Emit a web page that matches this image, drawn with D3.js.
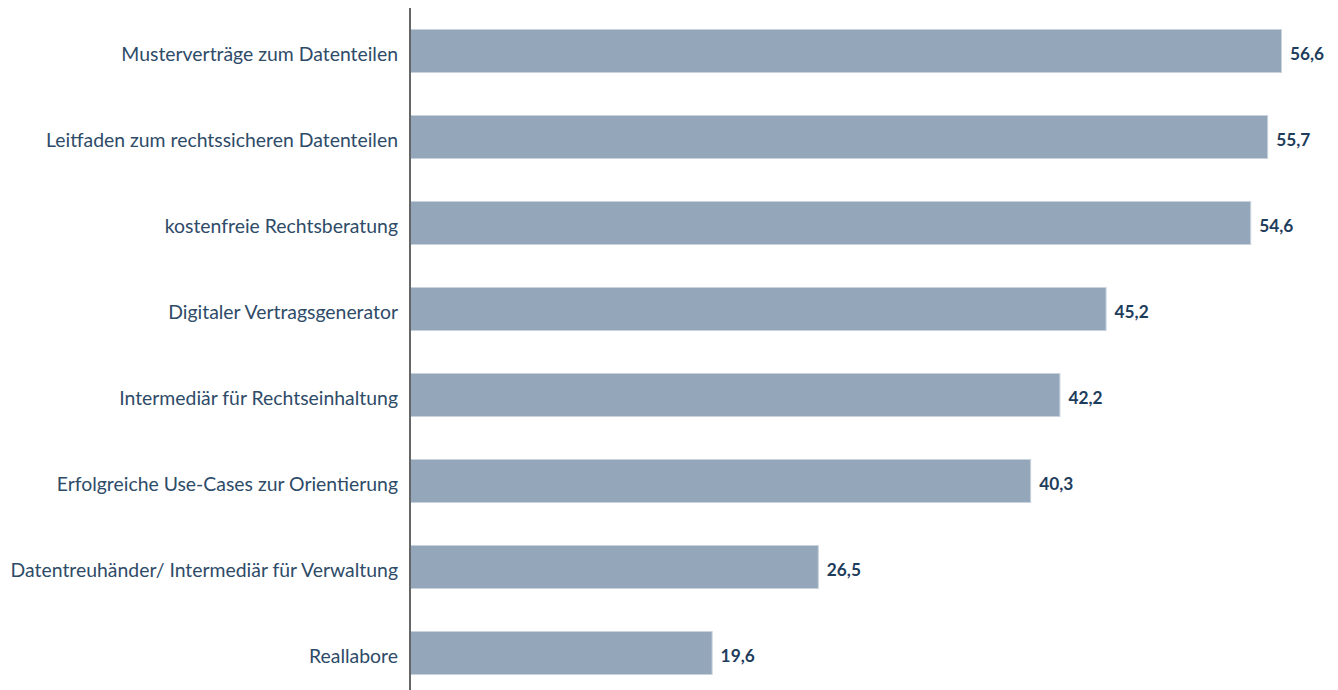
<!DOCTYPE html>
<html><head><meta charset="utf-8">
<script src="https://cdn.jsdelivr.net/npm/d3@7"></script>
<style>body{margin:0;background:#fff}</style>
</head><body>
<script>
const categories = ["Musterverträge zum Datenteilen","Leitfaden zum rechtssicheren Datenteilen","kostenfreie Rechtsberatung","Digitaler Vertragsgenerator","Intermediär für Rechtseinhaltung","Erfolgreiche Use-Cases zur Orientierung","Datentreuhänder/ Intermediär für Verwaltung","Reallabore"];
const values = [56.6,55.7,54.6,45.2,42.2,40.3,26.5,19.6];

const W=1338,H=690;
const svg=d3.select("body").append("svg").attr("width",W).attr("height",H);
const x=d3.scaleLinear().domain([0,56.6]).range([410,1281]);
const y=d3.scaleBand().domain(categories).range([8,696]).paddingInner(0.5).paddingOuter(0.25);
const font="'Lato',sans-serif";

svg.selectAll("rect.bar").data(values).join("rect")
 .attr("x",x(0)+0.5).attr("y",(d,i)=>y(categories[i]))
 .attr("width",d=>x(d)-x(0)).attr("height",y.bandwidth())
 .attr("fill","#94a7ba").attr("stroke","#c9d3dd").attr("stroke-width",1);

svg.selectAll("text.cat").data(categories).join("text")
 .attr("x",398).attr("y",d=>y(d)+y.bandwidth()/2+3).attr("dy","0.35em")
 .attr("text-anchor","end").attr("font-family",font).attr("font-size",19.4)
 .attr("fill","#2e4b68").text(d=>d);

svg.selectAll("text.val").data(values).join("text")
 .attr("x",d=>x(d)+9).attr("y",(d,i)=>y(categories[i])+y.bandwidth()/2+3).attr("dy","0.35em")
 .attr("font-family",font).attr("font-size",17.3).attr("font-weight","bold")
 .attr("fill","#1e3d5c").text(d=>d.toFixed(1).replace(".",","));

svg.append("line").attr("x1",410).attr("x2",410).attr("y1",8).attr("y2",690)
 .attr("stroke","#666").attr("stroke-width",2);
</script>
</body></html>
